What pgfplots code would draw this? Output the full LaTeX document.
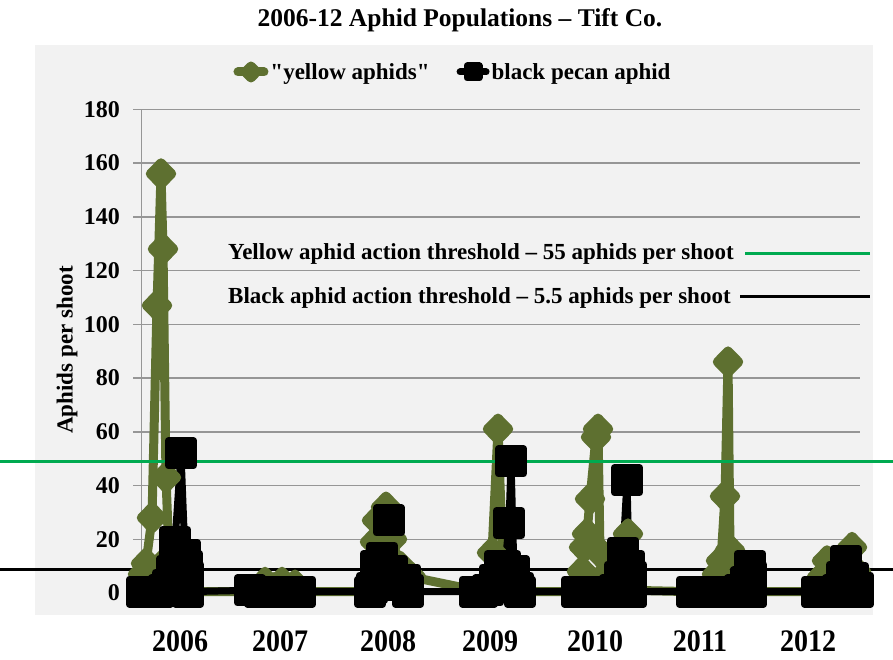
\documentclass[border=0pt]{standalone}
\usepackage{graphicx}
\usepackage{pgfplots}
\pgfplotsset{compat=1.18}
\usepackage{fontspec}
\setmainfont{Liberation Serif}[Ligatures=TeXOff]
\definecolor{olivedat}{RGB}{94,112,48}
\definecolor{threshgreen}{RGB}{0,170,80}
\definecolor{gridgray}{RGB}{150,150,150}
\definecolor{chartbg}{RGB}{242,242,242}
\newcommand{\yr}[1]{\scalebox{1}[1.12]{#1}}

\begin{document}
\begin{tikzpicture}
\path[use as bounding box] (0pt,0pt) rectangle (893pt,660pt);
\fill[white] (0pt,0pt) rectangle (893pt,660pt);
\fill[chartbg] (35pt,45pt) rectangle (873pt,615pt);
\node[font=\fontsize{25.5}{30}\selectfont\bfseries] at (460pt,640pt) {2006-12 Aphid Populations – Tift Co.};
\begin{axis}[
  at={(141.7pt,67pt)}, anchor=south west,
  scale only axis, width=718.3pt, height=483.7pt,
  xmin=141.7, xmax=860, ymin=0, ymax=180,
  clip=false,
  axis x line*=bottom, axis y line*=left,
  axis line style={-, draw=gridgray, line width=1.5pt},
  ytick={0,20,...,180},
  ymajorgrids, grid style={gridgray, line width=1.5pt},
  major tick length=8.3pt, tick align=outside,
  ytick style={gridgray, line width=1.5pt},
  xtick={180,280,388,490,595,700,808},
  xticklabels={\yr{2006},\yr{2007},\yr{2008},\yr{2009},\yr{2010},\yr{2011},\yr{2012}},
  xtick style={draw=none},
  xticklabel style={anchor=center, inner sep=0pt, yshift=-40pt, font=\fontsize{28}{32}\selectfont\bfseries},
  yticklabel style={xshift=-10pt, font=\fontsize{24}{28}\selectfont\bfseries},
  /pgf/number format/assume math mode=true,
  ylabel={Aphids per shoot},
  every axis y label/.style={at={(axis description cs:-0.104,0.5024)}, rotate=90, anchor=center, font=\fontsize{23}{27}\selectfont\bfseries},
  legend style={at={(0.4334,1.0771)}, anchor=center, draw=none, fill=none,
    legend columns=2, font=\fontsize{23}{27}\selectfont\bfseries,
    /tikz/every even column/.append style={column sep=25pt}},
  legend image code/.code={\draw[mark repeat=2,mark phase=2,#1,mark size=6pt] plot coordinates {(0pt,0pt) (13pt,0pt) (26pt,0pt)};},
]
\addplot[olivedat, line width=9pt, line join=round, line cap=round,
  mark=diamond*, mark size=11pt, mark options={draw=none, fill=olivedat, xscale=1.3}]
  coordinates {
  (142,0.5) (143,7) (146,11) (152,28) (157,107) (161,156) (163,128) (166,43) (169,13) (173,3) (180,1) (188,0.5)
  (250,0.5) (260,1) (265,4) (274,2) (282,4) (290,1) (295,3) (300,0.5)
  (370,0.5) (372,5) (375,19) (377,27) (386,32) (392,20) (400,10) (411,6) (476,1)
  (485,3) (492,15) (498,61) (503,10) (508,3) (515,1) (520,0.5)
  (577,0.5) (580,1) (582,8) (584,17) (587,22) (590,35) (596,58) (598,61) (600,15) (606,7) (615,3) (628,22) (631,5) (631,1)
  (692,0.5) (705,0.5) (712,2) (717,7) (721,12) (725,36) (728,86) (730,16) (735,3) (745,1) (751,0.5)
  (817,0.5) (820,2) (822,6) (827,12) (835,8) (845,10) (852,17) (856,8) (858,2) (858,0.5)
  };
\addlegendentry{"yellow aphids"}
\addplot[black, line width=7pt, line join=round, line cap=round,
  mark=square*, mark size=12.5pt, mark options={draw=none, fill=black}]
  coordinates {
  (142,0.5) (150,0.5) (158,0.5) (164,1) (168,3) (172,8) (175,19) (181,52) (185,14) (187,10) (188,6) (188,2) (188,0.5)
  (250,1) (260,0.5) (270,0.5) (280,0.5) (290,0.5) (300,0.5)
  (370,0.5) (372,2) (376,10) (382,13) (389,27) (392,8) (398,3) (405,5) (408,1) (408,0.5)
  (475,0.5) (482,0.5) (488,1) (495,5) (500,10) (505,10) (509,26) (511,49) (514,8) (518,2) (520,0.5)
  (577,0.5) (588,0.5) (598,0.5) (608,0.5) (615,1) (620,6) (623,15) (627,42) (629,10) (631,6) (631,2) (631,0.5)
  (692,0.5) (705,0.5) (718,0.5) (730,0.5) (740,1) (746,4) (750,10) (751,6) (751,2) (751,0.5)
  (817,0.5) (825,0.5) (833,0.5) (838,1) (842,6) (846,12) (853,5.5) (858,2) (858,0.5)
  };
\addlegendentry{black pecan aphid}
% action thresholds
\addplot[threshgreen, line width=3pt, forget plot] coordinates {(0,48.75) (893,48.75)};
\addplot[black, line width=3pt, forget plot] coordinates {(0,8.93) (893,8.93)};
\addplot[threshgreen, line width=3pt, forget plot] coordinates {(745,126.2) (870,126.2)};
\addplot[black, line width=3pt, forget plot] coordinates {(740,110.5) (870,110.5)};
\node[anchor=west, inner sep=0pt, font=\fontsize{23}{27}\selectfont\bfseries] at (axis cs:228,126.1) {Yellow aphid action threshold – 55 aphids per shoot};
\node[anchor=west, inner sep=0pt, font=\fontsize{23}{27}\selectfont\bfseries] at (axis cs:228,109.8) {Black aphid action threshold – 5.5 aphids per shoot};
\end{axis}
\end{tikzpicture}
\end{document}
